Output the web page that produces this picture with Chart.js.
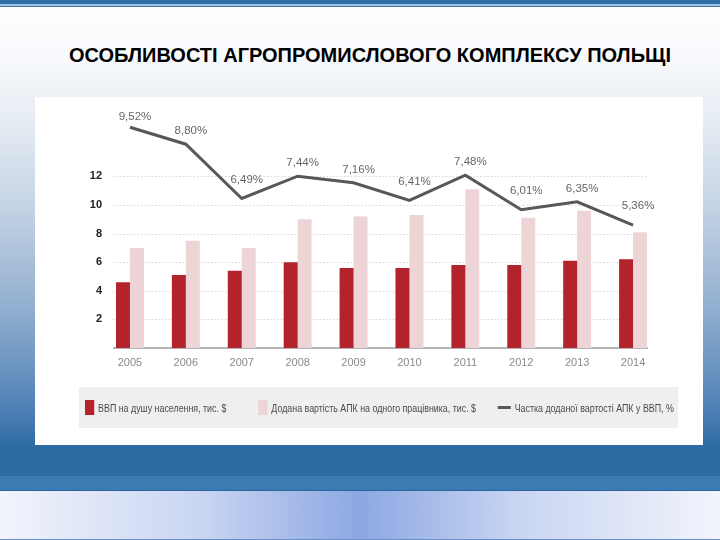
<!DOCTYPE html>
<html>
<head>
<meta charset="utf-8">
<script src="https://cdn.jsdelivr.net/npm/chart.js@4.4.0/dist/chart.umd.min.js"></script>
<style>
  html, body { margin: 0; padding: 0; }
  #slide {
    position: relative; width: 720px; height: 540px; overflow: hidden;
    background: linear-gradient(to bottom, #ffffff 0px, #f7f9fc 60px, #e6ecf3 120px, #c3d2e4 210px, #90aecf 310px, #5685b9 400px, #2e6ca5 446px);
  }
  .topbar { position: absolute; left: 0; top: 0; width: 720px; height: 7px;
    background: linear-gradient(to bottom, #2f6ea5 0px, #2f6ea5 4px, #9dbfe0 4px, #9dbfe0 6px, #3b78b0 6px, #3b78b0 7px); }
  h1 { position: absolute; left: 0; width: 740px; top: 44px; margin: 0; text-align: center;
    font: bold 20px "Liberation Sans", Arial, sans-serif; color: #000; }
  #box { position: absolute; left: 35px; top: 97px; width: 668px; height: 348px; background: #fff; }
  #legend { position: absolute; left: 44px; top: 290px; width: 599px; height: 41px; background: #efefef; }
  #legend .inner { position: absolute; left: 6px; top: 0; width: 780px; height: 41px;
    transform: scaleX(0.77); transform-origin: 0 0; }
  #legend .item { position: absolute; top: 0; height: 41px; display: flex; align-items: center; white-space: nowrap;
    font: 11.5px "Liberation Sans", Arial, sans-serif; color: #4a4a4a; }
  #legend .mark { display: inline-block; margin-right: 5px; }
  .band { position: absolute; left: 0; top: 445px; width: 720px; height: 46px;
    background: linear-gradient(to bottom, #2c6aa3 0px, #2c6aa3 31px, #3b7bb4 31px, #3b7bb4 45px, #2a65a0 45px); }
  .footer { position: absolute; left: 0; top: 491px; width: 720px; height: 49px;
    background: linear-gradient(to right, #f2f4fc 0%, #c9d5f2 28%, #8ca8e2 50%, #c9d5f2 72%, #f2f4fc 100%);
    border-bottom: 1px solid #6d8fc8; box-sizing: border-box; }
</style>
</head>
<body>
<div id="slide">
  <div class="topbar"></div>
  <h1>ОСОБЛИВОСТІ АГРОПРОМИСЛОВОГО КОМПЛЕКСУ ПОЛЬЩІ</h1>
  <div id="box">
    <canvas id="myChart"></canvas>
    <div id="legend"><div class="inner"></div></div>
  </div>
  <div class="band"></div>
  <div class="footer"></div>
</div>
<script>
const years = ["2005", "2006", "2007", "2008", "2009", "2010", "2011", "2012", "2013", "2014"];
const gdpPerCapita = [4.6, 5.1, 5.4, 6.0, 5.6, 5.6, 5.8, 5.8, 6.1, 6.2];
const addedValuePerWorker = [7.0, 7.5, 7.0, 9.0, 9.2, 9.3, 11.1, 9.1, 9.6, 8.1];
const agroShare = [9.52, 8.80, 6.49, 7.44, 7.16, 6.41, 7.48, 6.01, 6.35, 5.36];
const yTicks = [2, 4, 6, 8, 10, 12];

const narrow = "'Liberation Sans', Arial, sans-serif";

// dotted grid, base line and the % labels over the line
const extras = {
  id: "extras",
  beforeDatasetsDraw(chart) {
    const ctx = chart.ctx;
    const x = chart.scales.x, y = chart.scales.y;
    const cw = x.getPixelForValue(1) - x.getPixelForValue(0);
    const left = x.getPixelForValue(0) - cw / 4 - 3;
    const right = x.getPixelForValue(years.length - 1) + cw / 4 + 1;
    ctx.save();
    ctx.strokeStyle = "#d6d6d6";
    ctx.lineWidth = 1;
    ctx.setLineDash([1.5, 2]);
    yTicks.forEach(v => {
      const py = Math.round(y.getPixelForValue(v)) + 0.5;
      ctx.beginPath(); ctx.moveTo(left, py); ctx.lineTo(right, py); ctx.stroke();
    });
    ctx.setLineDash([]);
    ctx.strokeStyle = "#9c9c9c";
    ctx.lineWidth = 1.5;
    const by = y.getPixelForValue(0);
    ctx.beginPath(); ctx.moveTo(left, by); ctx.lineTo(right, by); ctx.stroke();
    ctx.restore();
  },
  afterDatasetsDraw(chart) {
    const ctx = chart.ctx;
    const pts = chart.getDatasetMeta(2).data;
    ctx.save();
    ctx.font = "11.5px " + narrow;
    ctx.fillStyle = "#666";
    ctx.textAlign = "center";
    ctx.textBaseline = "middle";
    pts.forEach((p, i) => {
      const prev = i > 0 ? agroShare[i - 1] : -1;
      const next = i < agroShare.length - 1 ? agroShare[i + 1] : -1;
      const dip = agroShare[i] < prev && (next < 0 || agroShare[i] < next);
      const label = agroShare[i].toFixed(2).replace(".", ",") + "%";
      ctx.fillText(label, p.x + 5, p.y + (dip ? -19 : i === 0 ? -10 : -13));
    });
    ctx.restore();
  }
};

const ctx = document.getElementById("myChart").getContext("2d");
const myChart = new Chart(ctx, {
  type: "bar",
  data: {
    labels: years,
    datasets: [
      {
        label: "ВВП на душу населення, тис. $",
        data: gdpPerCapita,
        backgroundColor: "#b2232b",
        categoryPercentage: 0.5,
        barPercentage: 1.0,
        order: 1,
      },
      {
        label: "Додана вартість АПК на одного працівника, тис. $",
        data: addedValuePerWorker,
        backgroundColor: "#ecd4d7",
        categoryPercentage: 0.5,
        barPercentage: 1.0,
        order: 1,
      },
      {
        type: "line",
        label: "Частка доданої вартості АПК у ВВП, %",
        data: agroShare,
        yAxisID: "y1",
        borderColor: "#57585a",
        backgroundColor: "#57585a",
        borderWidth: 3,
        pointRadius: 0,
        tension: 0,
        order: 0,
      },
    ],
  },
  options: {
    responsive: true,
    maintainAspectRatio: false,
    animation: false,
    layout: { padding: { left: 37, right: 42, top: 15, bottom: 71 } },
    plugins: {
      tooltip: { enabled: false },
      legend: { display: false },
    },
    scales: {
      x: {
        grid: { display: false, drawTicks: false },
        border: { display: false },
        ticks: { color: "#8a8a8a", font: { family: narrow, size: 11 }, padding: 8 },
        afterFit(scale) { scale.height = 26; },
      },
      y: {
        min: 0,
        max: 16.5,
        grid: { display: false, drawTicks: false },
        border: { display: false },
        afterBuildTicks(scale) { scale.ticks = yTicks.map(v => ({ value: v })); },
        ticks: { color: "#222", padding: 0, font: { family: narrow, size: 11, weight: "bold" } },
        afterFit(scale) { scale.width = 30; },
      },
      y1: {
        display: false,
        min: 0.13,
        max: 10.17,
      },
    },
  },
  plugins: [extras],
});

// html legend (narrow type like the original), built from the datasets
const legendStarts = [0, 225, 536];
const inner = document.querySelector("#legend .inner");
myChart.data.datasets.forEach((ds, i) => {
  const item = document.createElement("div");
  item.className = "item";
  item.style.left = legendStarts[i] + "px";
  const mark = document.createElement("span");
  mark.className = "mark";
  if (ds.type === "line") {
    mark.style.width = "17px"; mark.style.height = "3px"; mark.style.background = ds.borderColor;
  } else {
    mark.style.width = "12px"; mark.style.height = "15px"; mark.style.background = ds.backgroundColor;
  }
  item.appendChild(mark);
  item.appendChild(document.createTextNode(ds.label));
  inner.appendChild(item);
});
</script>
</body>
</html>
